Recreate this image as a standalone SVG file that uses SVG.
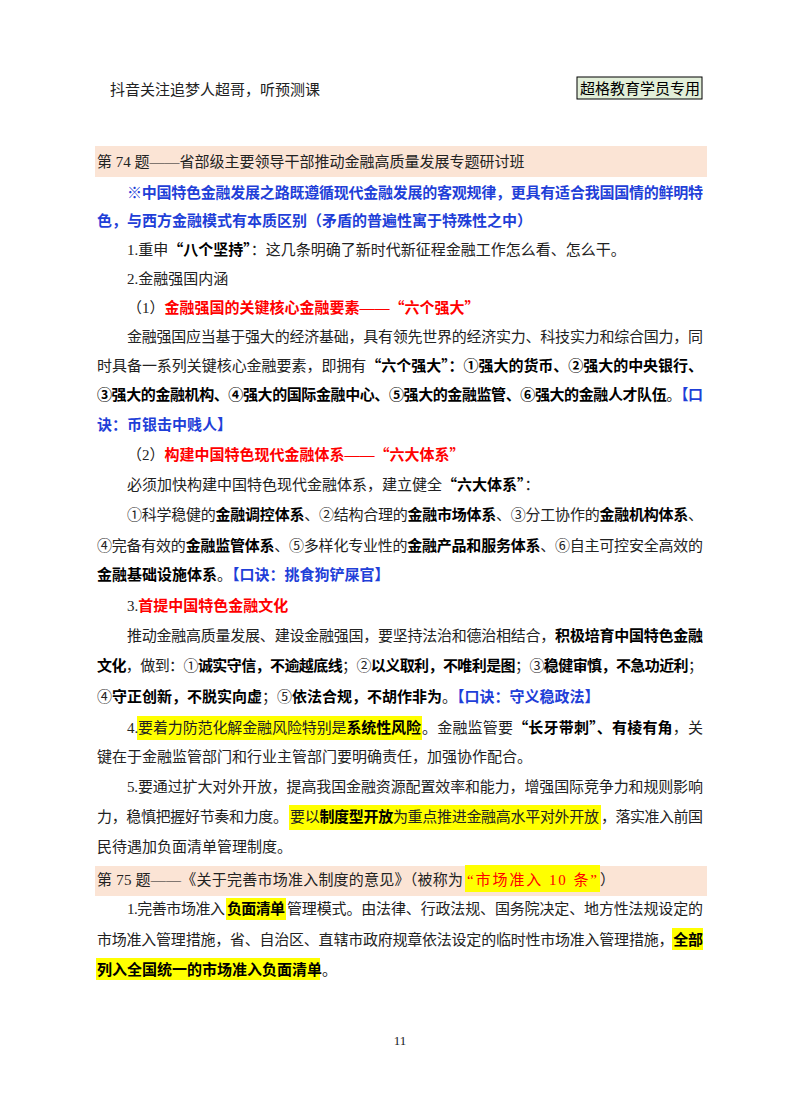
<svg xmlns="http://www.w3.org/2000/svg" width="800" height="1114" viewBox="0 0 800 1114">
<style>
text{font-family:"Liberation Serif","Noto Sans CJK SC",serif;font-size:15px;fill:#222}
.q{font-family:"Noto Sans CJK SC",sans-serif}
.b{font-weight:bold;fill:#000}
.r{fill:#ff0000;font-weight:bold}
.red{fill:#ff0000}
.blb{fill:#1f3fd8;font-weight:bold}
.bar{fill:#fbe4d5}
.hl{fill:#ffff00}
</style>
<rect width="800" height="1114" fill="#fff"/>
<text x="110" y="95">抖音关注追梦人超哥，听预测课</text>
<rect x="577" y="77" width="125" height="22" fill="#e2efd9" stroke="#000"/>
<text x="580" y="94" class="b" style="font-weight:normal">超格教育学员专用</text>
<rect class="bar" x="95" y="146" width="612" height="31"/>
<text x="97" y="167">第 74 题——省部级主要领导干部推动金融高质量发展专题研讨班</text>
<text x="127" y="198" textLength="576" class="blb">※中国特色金融发展之路既遵循现代金融发展的客观规律，更具有适合我国国情的鲜明特</text>
<text x="97" y="226" class="blb">色，与西方金融模式有本质区别（矛盾的普遍性寓于特殊性之中）</text>
<text x="127" y="255">1.重申<tspan class="b q">“八个坚持”</tspan>：这几条明确了新时代新征程金融工作怎么看、怎么干。</text>
<text x="127" y="284">2.金融强国内涵</text>
<text x="127" y="313">（1）<tspan class="r">金融强国的关键核心金融要素——<tspan class="q">“六个强大”</tspan></tspan></text>
<text x="127" y="342" textLength="576">金融强国应当基于强大的经济基础，具有领先世界的经济实力、科技实力和综合国力，同</text>
<text x="97" y="371" textLength="606">时具备一系列关键核心金融要素，即拥有<tspan class="b q">“六个强大”</tspan><tspan class="b">：①强大的货币、②强大的中央银行、</tspan></text>
<text x="97" y="400" textLength="606"><tspan class="b">③强大的金融机构、④强大的国际金融中心、⑤强大的金融监管、⑥强大的金融人才队伍</tspan>。<tspan class="blb">【口</tspan></text>
<text x="97" y="430" class="blb">诀：币银击中贱人】</text>
<text x="127" y="460">（2）<tspan class="r">构建中国特色现代金融体系——<tspan class="q">“六大体系”</tspan></tspan></text>
<text x="127" y="490">必须加快构建中国特色现代金融体系，建立健全<tspan class="b q">“六大体系”</tspan>：</text>
<text x="127" y="520" textLength="576">①科学稳健的<tspan class="b">金融调控体系</tspan>、②结构合理的<tspan class="b">金融市场体系</tspan>、③分工协作的<tspan class="b">金融机构体系</tspan>、</text>
<text x="97" y="551" textLength="606">④完备有效的<tspan class="b">金融监管体系</tspan>、⑤多样化专业性的<tspan class="b">金融产品和服务体系</tspan>、⑥自主可控安全高效的</text>
<text x="97" y="580"><tspan class="b">金融基础设施体系</tspan>。<tspan class="blb">【口诀：挑食狗铲屎官】</tspan></text>
<text x="127" y="611">3.<tspan class="r">首提中国特色金融文化</tspan></text>
<text x="127" y="641" textLength="576">推动金融高质量发展、建设金融强国，要坚持法治和德治相结合，<tspan class="b">积极培育中国特色金融</tspan></text>
<text x="97" y="671" textLength="606"><tspan class="b">文化</tspan>，做到：①<tspan class="b">诚实守信，不逾越底线</tspan>；②<tspan class="b">以义取利，不唯利是图</tspan>；③<tspan class="b">稳健审慎，不急功近利</tspan>；</text>
<text x="97" y="702">④<tspan class="b">守正创新，不脱实向虚</tspan>；⑤<tspan class="b">依法合规，不胡作非为</tspan>。<tspan class="blb">【口诀：守义稳政法】</tspan></text>
<rect class="hl" x="137" y="716" width="285" height="24"/>
<text x="127" y="733">4.</text>
<text x="138" y="733" textLength="283">要着力防范化解金融风险特别是<tspan class="b">系统性风险</tspan></text>
<text x="422" y="733" textLength="281">。金融监管要<tspan class="b q">“长牙带刺”、有棱有角</tspan>，关</text>
<text x="97" y="762">键在于金融监管部门和行业主管部门要明确责任，加强协作配合。</text>
<text x="127" y="792" textLength="576">5.要通过扩大对外开放，提高我国金融资源配置效率和能力，增强国际竞争力和规则影响</text>
<rect class="hl" x="289" y="805" width="312" height="25"/>
<text x="97" y="822" textLength="191">力，稳慎把握好节奏和力度。</text>
<text x="290" y="822" textLength="309">要以<tspan class="b">制度型开放</tspan>为重点推进金融高水平对外开放</text>
<text x="601" y="822" textLength="102">，落实准入前国</text>
<text x="97" y="852">民待遇加负面清单管理制度。</text>
<rect class="bar" x="95" y="866" width="612" height="30"/>
<rect class="hl" x="465" y="865" width="135" height="27"/>
<text x="97" y="885" textLength="366">第 75 题——《关于完善市场准入制度的意见》（被称为</text>
<text x="467" y="885" class="red" textLength="130">“市场准入 10 条”</text>
<text x="600" y="885">）</text>
<rect class="hl" x="226" y="898" width="60" height="22"/>
<text x="127" y="914" textLength="98">1.完善市场准入</text>
<text x="227" y="914" class="b" textLength="58">负面清单</text>
<text x="287" y="914" textLength="416">管理模式。由法律、行政法规、国务院决定、地方性法规设定的</text>
<rect class="hl" x="672" y="928" width="31" height="22"/>
<text x="97" y="945" textLength="606">市场准入管理措施，省、自治区、直辖市政府规章依法设定的临时性市场准入管理措施，<tspan class="b">全部</tspan></text>
<rect class="hl" x="96" y="958" width="224" height="22"/>
<text x="97" y="975"><tspan class="b">列入全国统一的市场准入负面清单</tspan>。</text>
<text x="400" y="1045" text-anchor="middle" style="font-size:13px">11</text>
</svg>
